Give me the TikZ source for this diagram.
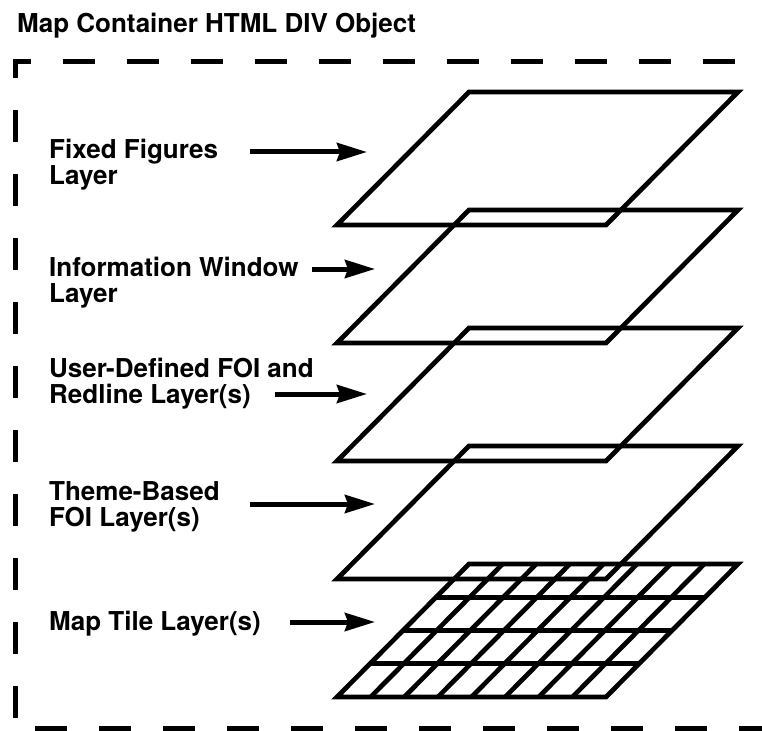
\documentclass[tikz,border=0pt]{standalone}
\usepackage{fontspec}
\setmainfont{TeX Gyre Heros}
\usetikzlibrary{arrows.meta}
\begin{document}
\begin{tikzpicture}[x=1pt,y=-1pt,
  lbl/.style={anchor=base west, inner sep=0pt, align=left, font=\bfseries\fontsize{26}{26}\selectfont},
  layer/.style={line width=4.7pt, line join=miter},
  arr/.style={line width=5pt, -{Stealth[length=30pt,width=18pt,inset=3pt]}},
  frame/.style={line width=5pt, dash pattern=on 32pt off 32pt}]
\useasboundingbox (0,0) rectangle (762,730);
\clip (0,0) rectangle (762,730);
% dashed container
\draw[frame, dash phase=54pt] (15,728) -- (15,62) -- (800,62);
\draw[frame, dash phase=44pt] (15,728) -- (800,728);
% layers
\foreach \i in {0,...,4} {
  \draw[layer] (469,{92+118*\i}) -- (738,{92+118*\i}) -- (606,{225+118*\i}) -- (337,{225+118*\i}) -- cycle;
}
% tile grid
\foreach \j in {1,...,7} {
  \draw[layer] ({337+269*\j/8},697) -- ({469+269*\j/8},564);
}
\foreach \k in {1,...,3} {
  \draw[layer] ({337+131*\k/4},{697-133*\k/4}) -- ({337+131*\k/4+269},{697-133*\k/4});
}
% title and labels (base anchor = baseline of the last line)
\node[lbl] (title) at (17,33) {Map Container HTML DIV Object};
\node[lbl] (l1) at (49,185) {Fixed Figures\\Layer};
\node[lbl] (l2) at (49,302) {Information Window\\Layer};
\node[lbl] (l3) at (49,403) {User-Defined FOI and\\Redline Layer(s)};
\node[lbl] (l4) at (49,526) {Theme-Based\\FOI Layer(s)};
\node[lbl] (l5) at (49,630) {Map Tile Layer(s)};
% arrows
\coordinate (a1s) at (250,152); \coordinate (a1e) at (367,152);
\coordinate (a2s) at (312,269); \coordinate (a2e) at (375,269);
\coordinate (a3s) at (275,394); \coordinate (a3e) at (367,394);
\coordinate (a4s) at (250,504); \coordinate (a4e) at (375,504);
\coordinate (a5s) at (290,622); \coordinate (a5e) at (375,622);
\draw[arr] (a1s) -- (a1e);
\draw[arr] (a2s) -- (a2e);
\draw[arr] (a3s) -- (a3e);
\draw[arr] (a4s) -- (a4e);
\draw[arr] (a5s) -- (a5e);
\end{tikzpicture}
\end{document}
